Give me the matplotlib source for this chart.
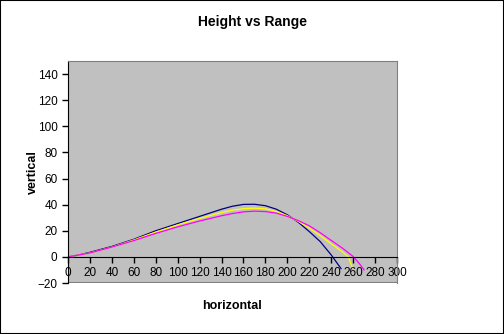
import matplotlib.pyplot as plt
from matplotlib.patches import Rectangle

plt.rcParams["font.family"] = ["Liberation Sans", "DejaVu Sans"]

# three trajectories
blue_x = [0, 10, 20, 40, 60, 80, 100, 120, 140, 150, 160, 170, 180, 190, 200, 210, 220, 230, 240, 249]
blue_y = [0, 1.5, 3.5, 8, 13.5, 20, 25.5, 31, 36.5, 38.8, 40.2, 40.3, 39.2, 36.5, 32.2, 26.5, 19.4, 11.7, 1.5, -9]

yellow_x = [0, 10, 20, 40, 60, 80, 100, 120, 140, 150, 160, 170, 180, 190, 200, 210, 220, 230, 240, 250, 255.6, 259]
yellow_y = [0, 1.5, 3, 7.5, 13, 19, 24.5, 29.5, 34, 35.8, 36.9, 37.3, 36.8, 34.8, 31.5, 27.2, 22, 16.3, 10, 4, 0, -7.5]

magenta_x = [0, 10, 20, 40, 60, 80, 100, 120, 140, 150, 160, 170, 180, 190, 200, 210, 220, 230, 240, 250, 260, 266, 270]
magenta_y = [0, 1.5, 3, 7.5, 12.5, 18, 23, 27.5, 31.5, 33.2, 34.5, 35, 34.7, 33.5, 31, 27.8, 23.8, 18.5, 12.6, 6.8, 0.3, -5.5, -10]

x_ticks = list(range(0, 301, 20))
y_ticks = list(range(-20, 141, 20))

fig = plt.figure(figsize=(5.04, 3.34), dpi=100)
fig.patches.append(Rectangle((0, 0), 1, 1, transform=fig.transFigure,
                             fill=False, edgecolor="black", linewidth=1.5))

ax = fig.add_axes([68 / 504, 51 / 334, 329 / 504, 222 / 334])
ax.set_facecolor("#c0c0c0")

ax.plot(blue_x, blue_y, color="#000080", linewidth=0.9)
ax.plot(yellow_x, yellow_y, color="#ffff00", linewidth=0.9)
ax.plot(magenta_x, magenta_y, color="#ff00ff", linewidth=0.9)

ax.set_xlim(0, 300)
ax.set_ylim(-20, 150)
ax.set_xticks(x_ticks)
ax.set_yticks(y_ticks)

for side in ["top", "right"]:
    ax.spines[side].set_color("#808080")
ax.spines["left"].set_color("black")
ax.spines["bottom"].set_position(("data", 0))
ax.spines["bottom"].set_color("black")
ax.axhline(-20, color="#808080", linewidth=1.5)

ax.tick_params(axis="both", direction="out", length=4, width=1, labelsize=8.5, colors="black")
ax.tick_params(axis="x", pad=3)

# titles placed in figure pixels, like the source chart
fig.text(252 / 504, 1 - 22 / 334, "Height vs Range", ha="center", va="center",
         fontsize=10, fontweight="bold")
fig.text(33 / 504, 1 - 172 / 334, "vertical", ha="center", va="center", rotation=90,
         fontsize=9, fontweight="bold")
fig.text(232 / 504, 1 - 306 / 334, "horizontal", ha="center", va="center",
         fontsize=9, fontweight="bold")

fig.savefig("out.png", dpi=100)
